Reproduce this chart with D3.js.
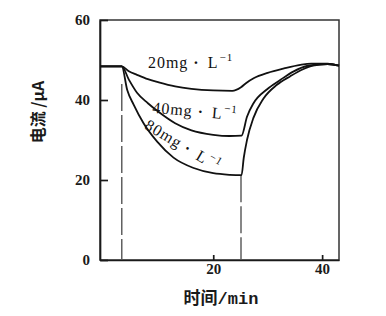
<!DOCTYPE html>
<html>
<head>
<meta charset="utf-8">
<script src="https://cdn.jsdelivr.net/npm/d3@7"></script>
<style>
  body { margin: 0; background: #fff; }
  svg { display: block; }
  .tick text { font-family: "Liberation Serif", serif; font-size: 15px; font-weight: bold; fill: #1a1a1a; }
  .tick line, .domain { stroke: #1a1a1a; stroke-width: 1.7; }
  .curve { fill: none; stroke: #111; stroke-width: 1.8; }
  .marker { stroke: #555; stroke-width: 1.4; stroke-dasharray: 27, 4; }
  .note { font-family: "Liberation Serif", serif; font-size: 16px; letter-spacing: 1px; fill: #111; }
</style>
</head>
<body>
<svg width="386" height="316"></svg>
<script>
// time (min) and current (uA), one pair of arrays per dose
const t20 = [-0.8, 3.2, 4.5, 6, 8, 10, 13, 16, 20, 23.5, 25.1, 26, 27.5, 30, 33, 36, 38, 41, 43.1];
const i20 = [48.4, 48.4, 47.2, 46.3, 45.2, 44.4, 43.4, 42.8, 42.4, 42.3, 43.2, 44.2, 45.5, 46.8, 47.9, 48.8, 49.1, 49.1, 48.6];

const t40 = [-0.8, 3.2, 4.5, 6, 8, 10, 13, 16, 20, 23, 25.2, 26.2, 27.4, 29.9, 32.3, 34.7, 37.2, 41, 43.1];
const i40 = [48.4, 48.4, 45.1, 41.8, 39.2, 37.0, 34.2, 32.4, 31.3, 31.0, 31.1, 35.8, 39.2, 42.7, 45.0, 47.1, 48.5, 49.0, 48.6];

const t80 = [-0.8, 3.2, 4.2, 5.4, 7.2, 9.7, 12.7, 16.4, 20, 23, 25.2, 25.6, 26.2, 27.4, 29.2, 31.7, 34.1, 36.5, 38.3, 41, 43.1];
const i80 = [48.4, 48.4, 42.5, 38.8, 34.2, 29.6, 25.6, 23.0, 21.7, 21.3, 21.2, 25.5, 30.0, 35.6, 40.3, 43.8, 45.9, 47.7, 48.6, 49.0, 48.6];

const doses = ['20mg', '40mg', '80mg'];

// dashed markers: start and stop of dosing, and how high each dash line reaches
const markerTimes = [3.2, 25.1];
const markerTops = [44, 21.2];

const xTicks = [20, 40];
const yTicks = [0, 20, 40, 60];

const plotLeft = 100, plotRight = 339, plotTop = 20, plotBottom = 260;

const x = d3.scaleLinear().domain([-0.8, 43.1]).range([plotLeft, plotRight]);
const y = d3.scaleLinear().domain([0, 60]).range([plotBottom, plotTop]);

const svg = d3.select('svg');

// frame
svg.append('rect')
    .attr('x', plotLeft).attr('y', plotTop)
    .attr('width', plotRight - plotLeft).attr('height', plotBottom - plotTop)
    .attr('fill', 'none').attr('stroke', '#333').attr('stroke-width', 1.5);

svg.append('g')
    .attr('transform', `translate(0, ${plotBottom})`)
    .call(d3.axisBottom(x).tickValues(xTicks).tickSizeInner(-5).tickSizeOuter(0).tickPadding(3));

svg.append('g')
    .attr('transform', `translate(${plotLeft}, 0)`)
    .call(d3.axisLeft(y).tickValues(yTicks).tickSizeInner(-8).tickSizeOuter(0).tickPadding(10));

// dashed markers
svg.selectAll('.marker').data(markerTimes)
    .enter().append('line')
    .attr('class', 'marker')
    .attr('x1', d => x(d)).attr('x2', d => x(d))
    .attr('y1', (d, i) => y(markerTops[i]))
    .attr('y2', y(0));

const line = d3.line()
    .x(d => x(d[0]))
    .y(d => y(d[1]))
    .curve(d3.curveMonotoneX);

const series = [d3.zip(t20, i20), d3.zip(t40, i40), d3.zip(t80, i80)];

svg.selectAll('.curve').data(series)
    .enter().append('path')
    .attr('class', 'curve')
    .attr('d', line);

// dose labels, placed beside each curve
const notePos = [[8.0, 48.0, 0], [8.75, 36.8, 5], [7.2, 33.0, 31]];

const notes = svg.selectAll('.note').data(doses)
    .enter().append('text')
    .attr('class', 'note')
    .attr('transform', (d, i) => `translate(${x(notePos[i][0])}, ${y(notePos[i][1])}) rotate(${notePos[i][2]})`);
notes.append('tspan').text(d => d);
notes.append('tspan').attr('dx', 5).style('font-weight', 'bold').text('·');
notes.append('tspan').attr('dx', 8).text('L');
notes.append('tspan').attr('dx', 1).attr('dy', -7).style('font-size', '11px').text('−1');

// axis titles
svg.append('text')
    .attr('transform', `translate(38, 112) rotate(-90)`)
    .attr('text-anchor', 'middle')
    .attr('dy', '0.35em')
    .style('font-family', '"Noto Sans CJK SC", sans-serif')
    .style('font-size', '16px')
    .style('font-weight', 'bold')
    .style('fill', '#1a1a1a')
    .text('电流 /μA');

const xt = svg.append('text')
    .attr('x', 221).attr('y', 304)
    .attr('text-anchor', 'middle')
    .style('font-size', '17px')
    .style('font-weight', 'bold')
    .style('fill', '#1a1a1a');
xt.append('tspan').style('font-family', '"Noto Sans CJK SC", sans-serif').text('时间');
xt.append('tspan').style('font-family', '"Liberation Mono", monospace').text('/min');
</script>
</body>
</html>
